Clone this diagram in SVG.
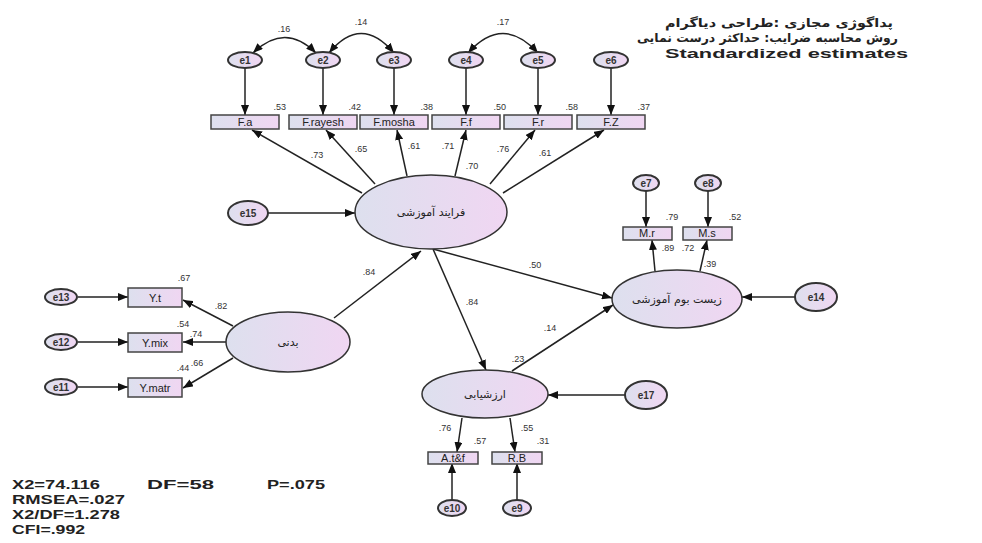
<svg xmlns="http://www.w3.org/2000/svg" width="982" height="543" viewBox="0 0 982 543">
<defs>
<linearGradient id="gf" x1="0" y1="0" x2="1" y2="0">
<stop offset="0" stop-color="#dde0ee"/>
<stop offset="1" stop-color="#f0d6f2"/>
</linearGradient>
<marker id="ah" viewBox="0 0 10 8" refX="10" refY="4" markerWidth="10" markerHeight="8" orient="auto-start-reverse" markerUnits="userSpaceOnUse">
<path d="M0,0 L10,4 L0,8 z" fill="#111"/>
</marker>
<style>
.lat{fill:url(#gf);stroke:#333;stroke-width:1.5}
.err{fill:url(#gf);stroke:#333;stroke-width:2}
.box{fill:url(#gf);stroke:#444;stroke-width:1.5}
.ln{fill:none;stroke:#222;stroke-width:1.5;marker-end:url(#ah)}
.arc{fill:none;stroke:#222;stroke-width:1.5;marker-end:url(#ah);marker-start:url(#ah)}
.t{font-family:"Liberation Sans",Arial,sans-serif;font-size:11px;fill:#222;text-anchor:middle}
.et{font-family:"Liberation Sans",Arial,sans-serif;font-size:10px;font-weight:bold;fill:#333;text-anchor:middle}
.n{font-family:"Liberation Sans",Arial,sans-serif;font-size:9px;fill:#333}
.fa{font-family:"DejaVu Sans","Noto Sans",sans-serif;font-size:11px;fill:#222;text-anchor:middle}
.st{font-family:"Liberation Sans",Arial,sans-serif;font-size:13px;font-weight:bold;fill:#222}
.hd{font-family:"DejaVu Sans","Noto Sans",sans-serif;font-size:12px;font-weight:bold;fill:#222}
</style>
</defs>

<g id="connectors">
<path class="arc" d="M253,53 Q285,22 316,53"/>
<path class="arc" d="M329,53 Q361,14 394,53"/>
<path class="arc" d="M468,53 Q503,14 538,53"/>
<line class="ln" x1="245" y1="68" x2="245" y2="115"/>
<line class="ln" x1="323" y1="68" x2="323" y2="115"/>
<line class="ln" x1="394" y1="68" x2="394" y2="115"/>
<line class="ln" x1="466" y1="68" x2="466" y2="115"/>
<line class="ln" x1="538" y1="68" x2="538" y2="115"/>
<line class="ln" x1="611" y1="68" x2="611" y2="115"/>
<line class="ln" x1="362" y1="193" x2="252" y2="130"/>
<line class="ln" x1="375" y1="184" x2="326" y2="130"/>
<line class="ln" x1="407" y1="176" x2="397" y2="130"/>
<line class="ln" x1="455" y1="176" x2="466" y2="130"/>
<line class="ln" x1="490" y1="184" x2="535" y2="130"/>
<line class="ln" x1="503" y1="193" x2="604" y2="130"/>
<line class="ln" x1="268" y1="213" x2="355" y2="213"/>
<line class="ln" x1="233" y1="326" x2="183" y2="300"/>
<line class="ln" x1="227" y1="342" x2="183" y2="342"/>
<line class="ln" x1="233" y1="358" x2="183" y2="388"/>
<line class="ln" x1="78" y1="297" x2="128" y2="297"/>
<line class="ln" x1="78" y1="342" x2="128" y2="342"/>
<line class="ln" x1="78" y1="387" x2="128" y2="387"/>
<line class="ln" x1="334" y1="318" x2="421" y2="251"/>
<line class="ln" x1="433" y1="249" x2="612" y2="298"/>
<line class="ln" x1="433" y1="249" x2="486" y2="370"/>
<line class="ln" x1="512" y1="371" x2="613" y2="305"/>
<line class="ln" x1="795" y1="297" x2="742" y2="297"/>
<line class="ln" x1="625" y1="395" x2="548" y2="395"/>
<line class="ln" x1="655" y1="271" x2="652" y2="240"/>
<line class="ln" x1="700" y1="271" x2="707" y2="240"/>
<line class="ln" x1="646" y1="191" x2="646" y2="227"/>
<line class="ln" x1="708" y1="191" x2="708" y2="227"/>
<line class="ln" x1="462" y1="418" x2="457" y2="452"/>
<line class="ln" x1="510" y1="418" x2="515" y2="452"/>
<line class="ln" x1="452" y1="500" x2="452" y2="463"/>
<line class="ln" x1="517" y1="500" x2="517" y2="463"/>
</g>

<g id="labels">
<text class="n" x="284" y="32" text-anchor="middle">.16</text>
<text class="n" x="361" y="25" text-anchor="middle">.14</text>
<text class="n" x="503" y="25" text-anchor="middle">.17</text>
<text class="n" x="286" y="110" text-anchor="end">.53</text>
<text class="n" x="361" y="110" text-anchor="end">.42</text>
<text class="n" x="433" y="110" text-anchor="end">.38</text>
<text class="n" x="506" y="110" text-anchor="end">.50</text>
<text class="n" x="578" y="110" text-anchor="end">.58</text>
<text class="n" x="650" y="110" text-anchor="end">.37</text>
<text class="n" x="317" y="158" text-anchor="middle">.73</text>
<text class="n" x="361" y="152" text-anchor="middle">.65</text>
<text class="n" x="414" y="149" text-anchor="middle">.61</text>
<text class="n" x="448" y="149" text-anchor="middle">.71</text>
<text class="n" x="472" y="169" text-anchor="middle">.70</text>
<text class="n" x="503" y="152" text-anchor="middle">.76</text>
<text class="n" x="545" y="156" text-anchor="middle">.61</text>
<text class="n" x="184" y="281" text-anchor="middle">.67</text>
<text class="n" x="221" y="309" text-anchor="middle">.82</text>
<text class="n" x="183" y="327" text-anchor="middle">.54</text>
<text class="n" x="196" y="337" text-anchor="middle">.74</text>
<text class="n" x="183" y="371" text-anchor="middle">.44</text>
<text class="n" x="197" y="366" text-anchor="middle">.66</text>
<text class="n" x="369" y="275" text-anchor="middle">.84</text>
<text class="n" x="535" y="268" text-anchor="middle">.50</text>
<text class="n" x="472" y="305" text-anchor="middle">.84</text>
<text class="n" x="550" y="331" text-anchor="middle">.14</text>
<text class="n" x="518" y="362" text-anchor="middle">.23</text>
<text class="n" x="672" y="220" text-anchor="middle">.79</text>
<text class="n" x="735" y="220" text-anchor="middle">.52</text>
<text class="n" x="668" y="251" text-anchor="middle">.89</text>
<text class="n" x="688" y="251" text-anchor="middle">.72</text>
<text class="n" x="710" y="267" text-anchor="middle">.39</text>
<text class="n" x="445" y="431" text-anchor="middle">.76</text>
<text class="n" x="480" y="444" text-anchor="middle">.57</text>
<text class="n" x="527" y="431" text-anchor="middle">.55</text>
<text class="n" x="543" y="444" text-anchor="middle">.31</text>
</g>

<g id="e1"><ellipse class="err" cx="245" cy="60" rx="17" ry="8"/><text class="et" x="245" y="64">e1</text></g>
<g id="e2"><ellipse class="err" cx="323" cy="60" rx="17" ry="8"/><text class="et" x="323" y="64">e2</text></g>
<g id="e3"><ellipse class="err" cx="394" cy="60" rx="17" ry="8"/><text class="et" x="394" y="64">e3</text></g>
<g id="e4"><ellipse class="err" cx="466" cy="60" rx="17" ry="8"/><text class="et" x="466" y="64">e4</text></g>
<g id="e5"><ellipse class="err" cx="538" cy="60" rx="17" ry="8"/><text class="et" x="538" y="64">e5</text></g>
<g id="e6"><ellipse class="err" cx="611" cy="60" rx="17" ry="8"/><text class="et" x="611" y="64">e6</text></g>

<g id="Fa"><rect class="box" x="211" y="115" width="68" height="14"/><text class="t" x="245" y="126">F.a</text></g>
<g id="Frayesh"><rect class="box" x="289" y="115" width="68" height="14"/><text class="t" x="323" y="126">F.rayesh</text></g>
<g id="Fmosha"><rect class="box" x="360" y="115" width="68" height="14"/><text class="t" x="394" y="126">F.mosha</text></g>
<g id="Ff"><rect class="box" x="432" y="115" width="68" height="14"/><text class="t" x="466" y="126">F.f</text></g>
<g id="Fr"><rect class="box" x="504" y="115" width="68" height="14"/><text class="t" x="538" y="126">F.r</text></g>
<g id="FZ"><rect class="box" x="577" y="115" width="68" height="14"/><text class="t" x="611" y="126">F.Z</text></g>

<g id="farayand"><ellipse class="lat" cx="431" cy="212" rx="76" ry="37"/><text class="fa" x="431" y="216">فرایند آموزشی</text></g>
<g id="e15"><ellipse class="err" cx="248" cy="213" rx="20" ry="12" stroke-width="1.5"/><text class="et" x="248" y="217">e15</text></g>

<g id="badani"><ellipse class="lat" cx="288" cy="342" rx="62" ry="30"/><text class="fa" x="288" y="346">بدنی</text></g>
<g id="Yt"><rect class="box" x="128" y="288" width="54" height="19"/><text class="t" x="155" y="302">Y.t</text></g>
<g id="Ymix"><rect class="box" x="128" y="333" width="54" height="19"/><text class="t" x="155" y="347">Y.mix</text></g>
<g id="Ymatr"><rect class="box" x="128" y="378" width="54" height="19"/><text class="t" x="155" y="392">Y.matr</text></g>
<g id="e13"><ellipse class="err" cx="61" cy="297" rx="16" ry="8"/><text class="et" x="61" y="301">e13</text></g>
<g id="e12"><ellipse class="err" cx="61" cy="342" rx="16" ry="8"/><text class="et" x="61" y="346">e12</text></g>
<g id="e11"><ellipse class="err" cx="61" cy="387" rx="16" ry="8"/><text class="et" x="61" y="391">e11</text></g>

<g id="zistboom"><ellipse class="lat" cx="677" cy="299" rx="65" ry="29"/><text class="fa" x="677" y="303">زیست بوم آموزشی</text></g>
<g id="e14"><ellipse class="err" cx="816" cy="297" rx="21" ry="14" stroke-width="1.5"/><text class="et" x="816" y="301">e14</text></g>
<g id="Mr"><rect class="box" x="623" y="227" width="49" height="13"/><text class="t" x="647" y="237">M.r</text></g>
<g id="Ms"><rect class="box" x="683" y="227" width="49" height="13"/><text class="t" x="707" y="237">M.s</text></g>
<g id="e7"><ellipse class="err" cx="646" cy="183" rx="13" ry="8"/><text class="et" x="646" y="187">e7</text></g>
<g id="e8"><ellipse class="err" cx="708" cy="183" rx="13" ry="8"/><text class="et" x="708" y="187">e8</text></g>

<g id="arzeshyabi"><ellipse class="lat" cx="485" cy="394" rx="63" ry="24"/><text class="fa" x="485" y="398">ارزشیابی</text></g>
<g id="e17"><ellipse class="err" cx="646" cy="395" rx="21" ry="14" stroke-width="1.5"/><text class="et" x="646" y="399">e17</text></g>
<g id="Atf"><rect class="box" x="428" y="452" width="50" height="12"/><text class="t" x="453" y="462">A.t&amp;f</text></g>
<g id="RB"><rect class="box" x="492" y="452" width="50" height="12"/><text class="t" x="517" y="462">R.B</text></g>
<g id="e10"><ellipse class="err" cx="452" cy="508" rx="14" ry="8"/><text class="et" x="452" y="512">e10</text></g>
<g id="e9"><ellipse class="err" cx="517" cy="508" rx="14" ry="8"/><text class="et" x="517" y="512">e9</text></g>

<g id="title">
<text class="hd" x="665" y="27" textLength="228" lengthAdjust="spacingAndGlyphs">پداگوژی مجازی :طراحی دیاگرام</text>
<text class="hd" x="637" y="42" textLength="261" lengthAdjust="spacingAndGlyphs">روش محاسبه ضرایب: حداکثر درست نمایی</text>
<text class="st" x="665" y="58" font-size="15" textLength="243" lengthAdjust="spacingAndGlyphs">Standardized estimates</text>
</g>

<g id="stats">
<text class="st" x="12" y="489" textLength="88" lengthAdjust="spacingAndGlyphs">X2=74.116</text>
<text class="st" x="147" y="489" textLength="67" lengthAdjust="spacingAndGlyphs">DF=58</text>
<text class="st" x="267" y="489" textLength="58" lengthAdjust="spacingAndGlyphs">P=.075</text>
<text class="st" x="12" y="504" textLength="113" lengthAdjust="spacingAndGlyphs">RMSEA=.027</text>
<text class="st" x="12" y="519" textLength="108" lengthAdjust="spacingAndGlyphs">X2/DF=1.278</text>
<text class="st" x="12" y="534" textLength="73" lengthAdjust="spacingAndGlyphs">CFI=.992</text>
</g>
</svg>
